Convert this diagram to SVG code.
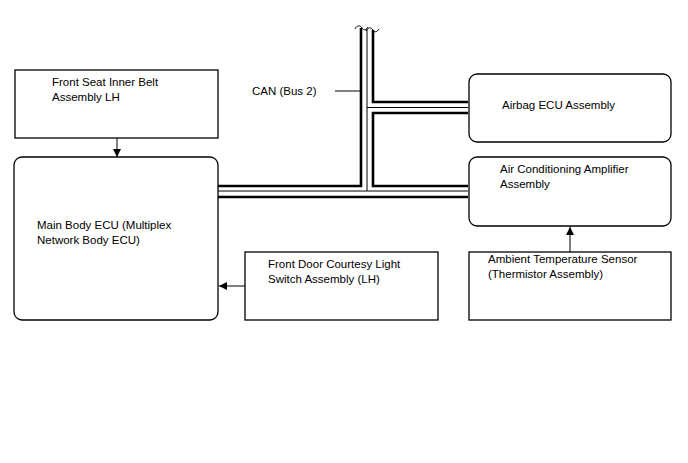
<svg xmlns="http://www.w3.org/2000/svg" width="688" height="463" viewBox="0 0 688 463">
<style>
.box{fill:#fff;stroke:#000;stroke-width:1.3}
.t{font-family:"Liberation Sans",Arial,sans-serif;font-size:11.5px;fill:#000}
.wall{fill:none;stroke:#000;stroke-width:2.6}
.ctr{fill:none;stroke:#000;stroke-width:1}
.ar{fill:none;stroke:#000;stroke-width:1}
</style>
<defs>
<marker id="ah" viewBox="0 0 10 10" refX="10" refY="5" markerWidth="8" markerHeight="8" markerUnits="userSpaceOnUse" orient="auto">
<path d="M0,0 L10,5 L0,10 z" fill="#000"/>
</marker>
</defs>
<rect width="688" height="463" fill="#fff"/>
<g id="connectors">
<path class="wall" d="M361,28 V186 H218"/>
<path class="wall" d="M218,197 H468"/>
<path class="wall" d="M373,30 V102 H468"/>
<path class="wall" d="M468,113 H373 V186 H468"/>
<path class="ctr" d="M367,29 V191 M218,191 H468 M367,107.5 H468"/>
<path class="ctr" d="M355,29 c2,-4 5,-4 7,-1 s4,2 6,-1" stroke-width="1.6"/>
<path class="ctr" d="M366,31 c2,-4 5,-4 7,-1 s4,2 6,-1" stroke-width="1.6"/>
<path class="ar" d="M335,91 H361"/>
<path class="ar" d="M117,138 V157" marker-end="url(#ah)"/>
<path class="ar" d="M245,286 H219" marker-end="url(#ah)"/>
<path class="ar" d="M570,252 V227" marker-end="url(#ah)"/>
</g>
<text class="t" x="252" y="95">CAN (Bus 2)</text>
<g id="front-seat-belt">
<rect class="box" x="15" y="70" width="203" height="68"/>
<text class="t" x="52" y="86">Front Seat Inner Belt</text>
<text class="t" x="52" y="101">Assembly LH</text>
</g>
<g id="main-body-ecu">
<rect class="box" x="14" y="157" width="204" height="163" rx="8"/>
<text class="t" x="37" y="229">Main Body ECU (Multiplex</text>
<text class="t" x="37" y="244">Network Body ECU)</text>
</g>
<g id="front-door-switch">
<rect class="box" x="245" y="252" width="193" height="68"/>
<text class="t" x="268" y="268">Front Door Courtesy Light</text>
<text class="t" x="268" y="283">Switch Assembly (LH)</text>
</g>
<g id="airbag-ecu">
<rect class="box" x="469" y="74" width="202" height="68" rx="8"/>
<text class="t" x="502" y="109">Airbag ECU Assembly</text>
</g>
<g id="ac-amplifier">
<rect class="box" x="469" y="157" width="202" height="69" rx="8"/>
<text class="t" x="500" y="173">Air Conditioning Amplifier</text>
<text class="t" x="500" y="188">Assembly</text>
</g>
<g id="ambient-sensor">
<rect class="box" x="469" y="252" width="202" height="68"/>
<text class="t" x="488" y="263">Ambient Temperature Sensor</text>
<text class="t" x="488" y="278">(Thermistor Assembly)</text>
</g>
</svg>
